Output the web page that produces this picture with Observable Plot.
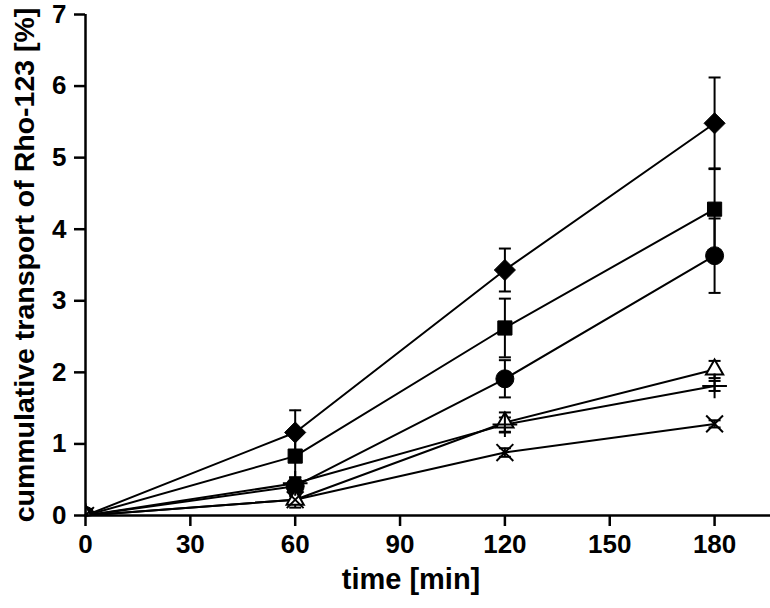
<!DOCTYPE html>
<html><head><meta charset="utf-8">
<script src="https://cdn.jsdelivr.net/npm/d3@7"></script>
<script src="https://cdn.jsdelivr.net/npm/@observablehq/plot@0.6"></script>
<style>body{margin:0;background:#fff;} svg{display:block;}</style>
</head><body><div id="chart"></div>
<script>
const times = [0, 60, 120, 180];
const seriesNames = ["diamond", "square", "circle", "triangle", "plus", "cross"];
const diamondMean = [0, 1.16, 3.43, 5.48];
const diamondSD   = [0, 0.31, 0.30, 0.64];
const squareMean  = [0, 0.83, 2.62, 4.28];
const squareSD    = [0, 0.30, 0.41, 0.57];
const circleMean  = [0, 0.41, 1.91, 3.63];
const circleSD    = [0, 0.12, 0.26, 0.52];
const triangleMean = [0, 0.22, 1.30, 2.04];
const triangleSD   = [0, 0.11, 0.14, 0.12];
const plusMean    = [0, 0.45, 1.27, 1.81];
const plusSD      = [0, 0.08, 0.10, 0.07];
const crossMean   = [0, 0.22, 0.88, 1.28];
const crossSD     = [0, 0.05, 0.06, 0.05];
const xTicks = [0, 30, 60, 90, 120, 150, 180];
const yTicks = [0, 1, 2, 3, 4, 5, 6, 7];
const xTitle = "time [min]";
const yTitle = "cummulative transport of Rho-123 [%]";

const means = {diamond: diamondMean, square: squareMean, circle: circleMean, triangle: triangleMean, plus: plusMean, cross: crossMean};
const sds = {diamond: diamondSD, square: squareSD, circle: circleSD, triangle: triangleSD, plus: plusSD, cross: crossSD};
const rows = seriesNames.flatMap(s => times.map((t, i) => ({series: s, t, v: means[s][i], sd: sds[s][i]})));
const errRows = rows.filter(d => d.sd > 0);

const styles = {
  diamond:  {symbol: "diamond2", r: 9.5, fill: "black", stroke: "black", strokeWidth: 1},
  square:   {symbol: "square", r: 8, fill: "black", stroke: "black", strokeWidth: 1},
  circle:   {symbol: "circle", r: 9, fill: "black", stroke: "black", strokeWidth: 1},
  triangle: {symbol: "triangle", r: 6.4, fill: "white", stroke: "black", strokeWidth: 2},
  plus:     {symbol: "plus", r: 8, fill: "none", stroke: "black", strokeWidth: 2},
  cross:    {symbol: "times", r: 7.7, fill: "none", stroke: "black", strokeWidth: 2}
};

const cap = {draw(context, size) { const w = 6; context.moveTo(-w, 0); context.lineTo(w, 0); }};

const markerMarks = seriesNames.map(s => Plot.dot(rows.filter(d => d.series === s), {
  x: "t", y: "v", clip: true, ...styles[s]
}));

const chart = Plot.plot({
  width: 770, height: 608,
  marginLeft: 85, marginRight: 0, marginTop: 14, marginBottom: 93,
  style: {fontFamily: "'Liberation Sans', Arial, sans-serif", fontSize: "26px", fontWeight: "bold", background: "white", color: "black"},
  x: {domain: [0, 196]},
  y: {domain: [0, 7]},
  marks: [
    Plot.line(rows, {x: "t", y: "v", z: "series", stroke: "black", strokeWidth: 2}),
    Plot.ruleX(errRows, {x: "t", y1: d => d.v - d.sd, y2: d => d.v + d.sd, stroke: "black", strokeWidth: 2}),
    Plot.dot(errRows, {x: "t", y: d => d.v + d.sd, symbol: cap, stroke: "black", strokeWidth: 2, fill: "none"}),
    Plot.dot(errRows, {x: "t", y: d => d.v - d.sd, symbol: cap, stroke: "black", strokeWidth: 2, fill: "none"}),
    ...markerMarks,
    Plot.axisX({ticks: xTicks, tickFormat: "d", tickSize: 11, tickPadding: 8, fontSize: 26, fontWeight: "bold", strokeWidth: 2.5, label: null}),
    Plot.axisY({ticks: yTicks, tickFormat: "d", tickSize: 11, tickPadding: 8, fontSize: 26, fontWeight: "bold", strokeWidth: 2.5, label: null}),
    Plot.ruleY([0], {stroke: "black", strokeWidth: 2.5}),
    Plot.ruleX([0], {stroke: "black", strokeWidth: 2.5}),
    Plot.text([xTitle], {frameAnchor: "bottom", dy: 73, dx: -17, fontSize: 29, fontWeight: "bold", fill: "black"}),
    Plot.text([yTitle], {frameAnchor: "left", textAnchor: "middle", rotate: -90, dx: -61, fontSize: 28.5, fontWeight: "bold", fill: "black"})
  ]
});
document.getElementById("chart").appendChild(chart);
</script>
</body></html>
